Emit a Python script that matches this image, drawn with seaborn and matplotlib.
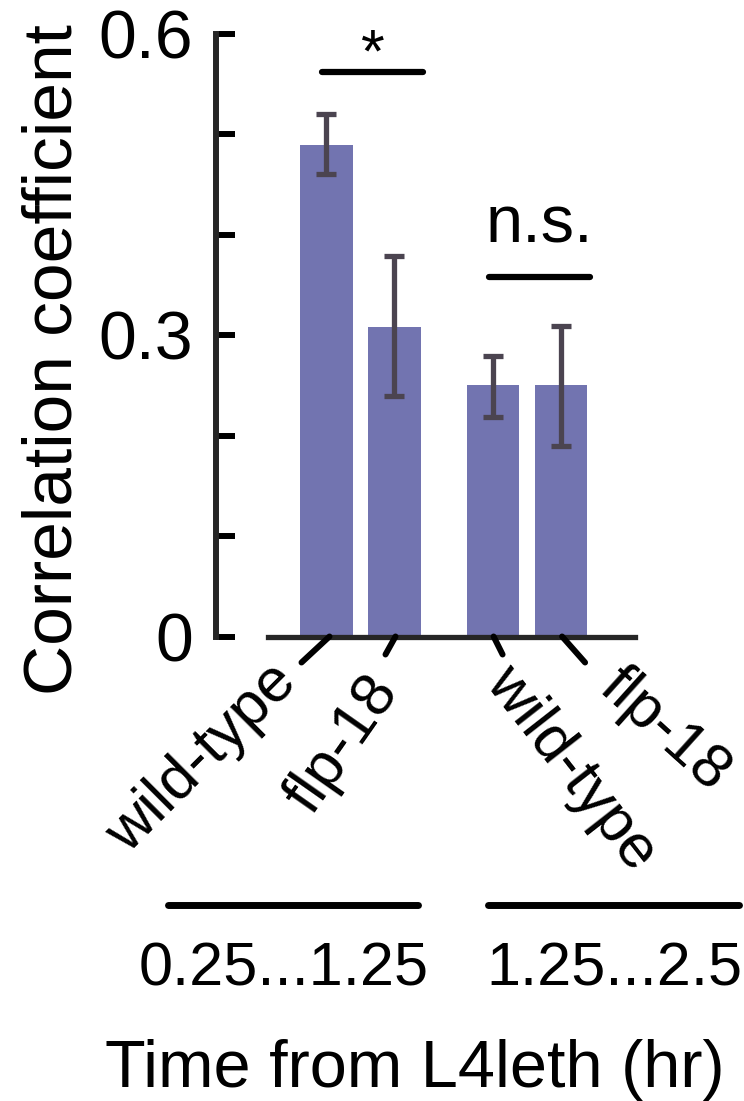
import numpy as np
import pandas as pd
import matplotlib
matplotlib.use("Agg")
import matplotlib.pyplot as plt
import seaborn as sns
from matplotlib.lines import Line2D

# ---------------- data ----------------
genotypes = ["wild-type", "flp-18", "wild-type", "flp-18"]
time_windows = ["0.25...1.25", "0.25...1.25", "1.25...2.5", "1.25...2.5"]
corr_mean = [0.489, 0.308, 0.250, 0.250]
err_low = [0.460, 0.239, 0.218, 0.190]
err_high = [0.520, 0.379, 0.279, 0.309]
y_ticks = [0, 0.1, 0.2, 0.3, 0.4, 0.5, 0.6]
y_tick_labels = ["0", "", "", "0.3", "", "", "0.6"]
sig_pairs = [(0, 1), (2, 3)]
sig_labels = ["*", "n.s."]
sig_levels = [0.562, 0.358]
x_label = "Time from L4leth (hr)"
y_label = "Correlation coefficient"

# ---------------- style ----------------
sns.set_style("ticks")
plt.rcParams['font.family'] = ['Liberation Sans', 'DejaVu Sans']
bar_color = "#7274B0"
err_color = "#4B4450"
ink = "black"

W, H, DPI = 744, 1101, 100
fig = plt.figure(figsize=(W / DPI, H / DPI), dpi=DPI)
fig.patch.set_facecolor("white")


def fx(x):
    return x / W


def fy(y):
    return 1 - y / H


ax = fig.add_axes([fx(216), fy(636.5), fx(635) - fx(216), fy(33.5) - fy(636.5)])

# positions: bars in a group 1 apart, extra gap between groups
group_names = list(dict.fromkeys(time_windows))
group_step = 2.45
within = []
seen = {}
for t in time_windows:
    within.append(seen.get(t, 0))
    seen[t] = seen.get(t, 0) + 1
pos = [group_names.index(t) * group_step + w for t, w in zip(time_windows, within)]

df = pd.DataFrame({"pos": pos, "corr": corr_mean, "genotype": genotypes,
                   "window": time_windows})

sns.barplot(data=df, x="pos", y="corr", native_scale=True, width=0.765,
            color=bar_color, saturation=1, errorbar=None, ax=ax,
            linewidth=0, zorder=1)

yerr = [np.array(corr_mean) - np.array(err_low), np.array(err_high) - np.array(corr_mean)]
ax.errorbar(pos, corr_mean, yerr=yerr, fmt="none", ecolor=err_color,
            elinewidth=3.8, capsize=7.5, capthick=3.8, zorder=3)

ax.set_xlim(-1.625, 4.537)
ax.set_ylim(0, 0.6)
ax.set_xlabel("")
ax.set_xticks([])
sns.despine(ax=ax)
ax.spines["left"].set_bounds(0, 0.6)
ax.spines["left"].set_linewidth(4.3)
ax.spines["bottom"].set_bounds(-0.86, 4.537)
ax.spines["bottom"].set_linewidth(3.8)
ax.spines["bottom"].set_zorder(4)

ax.set_yticks(y_ticks)
ax.set_yticklabels(y_tick_labels)
ax.tick_params(axis="y", direction="in", length=13.7, width=4.3, pad=16.5,
               labelsize=49, colors=ink)
ax.set_ylabel(y_label, fontsize=50, color=ink)
ax.yaxis.set_label_coords(-0.3126, 0.4585)

# significance brackets
for (i, j), lab, lvl, toff, fs in zip(sig_pairs, sig_labels, sig_levels,
                                      [0.0, 0.034], [44, 48]):
    x0 = pos[i] - 0.06
    x1 = pos[j] + 0.42
    ax.plot([x0, x1], [lvl, lvl], color=ink, lw=4.5, solid_capstyle="round",
            clip_on=False, zorder=5)
    ax.text((x0 + x1) / 2, lvl + toff, lab, ha="center", va="baseline",
            fontsize=fs, color=ink, clip_on=False)

fig.canvas.draw()


def data_to_px(x, y):
    X, Y = ax.transData.transform((x, y))
    return X, H - Y


def px_to_data(X, Y):
    return ax.transData.inverted().transform((X, H - Y))


# slanted tick marks and rotated tick labels
tick_start = [(3, 0), (1, 0), (0.5, 0), (1, 0)]
tick_end = [(-25, 26), (-9, 18), (9.5, 18), (24, 26)]
lab_anchor = [(-38.5, 37), (-8, 46), (3.5, 37), (46, 42)]
lab_rot = [45, 55, -52, -42]
lab_ha = ["right", "right", "left", "left"]
for k, p in enumerate(pos):
    bx, by = data_to_px(p, 0)
    s = px_to_data(bx + tick_start[k][0], by + tick_start[k][1])
    e = px_to_data(bx + tick_end[k][0], by + tick_end[k][1])
    ax.plot([s[0], e[0]], [s[1], e[1]], color=ink, lw=4.3,
            solid_capstyle="round", clip_on=False, zorder=5)
    lx, ly = bx + lab_anchor[k][0], by + lab_anchor[k][1]
    fig.text(fx(lx), fy(ly), genotypes[k], rotation=lab_rot[k],
             rotation_mode="anchor", ha=lab_ha[k], va="center",
             fontsize=44, color=ink)

# group bars and labels
group_lines = [(168, 418), (488, 739)]
group_label_x = [284, 614]
for (a, b), gname, gx in zip(group_lines, group_names, group_label_x):
    fig.add_artist(Line2D([fx(a), fx(b)], [fy(905), fy(905)], color=ink,
                          lw=5, solid_capstyle="round"))
    fig.text(fx(gx), fy(985), gname, ha="center", va="baseline",
             fontsize=44, color=ink)

fig.text(fx(415), fy(1087), x_label, ha="center", va="baseline",
         fontsize=48, color=ink)

fig.savefig("out.png", dpi=DPI, facecolor="white")
